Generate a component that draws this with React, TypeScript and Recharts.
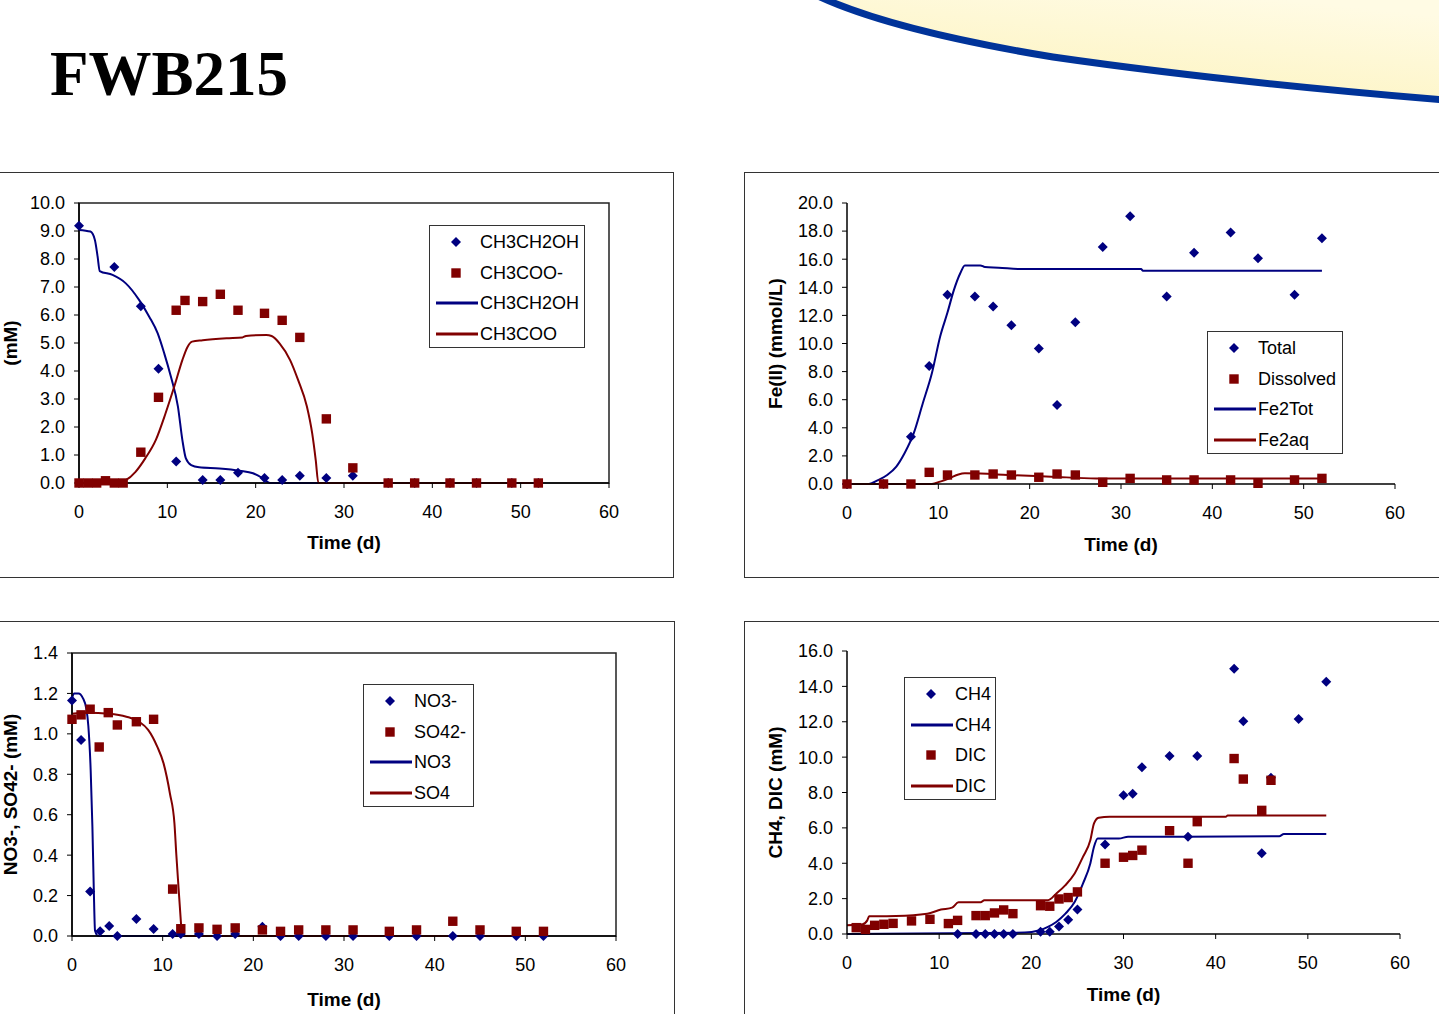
import React from "react";
import { ComposedChart, Line, Scatter, XAxis, YAxis, Legend, ReferenceArea } from "recharts";

type Pt = [number, number];

const BLUE = "#000080";
const RED = "#800000";
const FONT = '"Liberation Sans", Arial, sans-serif';

// axis ticks
const timeTicks = [0, 10, 20, 30, 40, 50, 60];
const organicTicks = [0, 1, 2, 3, 4, 5, 6, 7, 8, 9, 10];
const ironTicks = [0, 2, 4, 6, 8, 10, 12, 14, 16, 18, 20];
const anionTicks = [0, 0.2, 0.4, 0.6, 0.8, 1.0, 1.2, 1.4];
const gasTicks = [0, 2, 4, 6, 8, 10, 12, 14, 16];

// ethanol / acetate (mM)
const etohObs: Pt[] = [
  [0, 9.19], [4, 7.71], [7, 6.31], [9, 4.08], [11, 0.77], [14, 0.11], [16, 0.11],
  [18, 0.37], [21, 0.18], [23, 0.11], [25, 0.26], [28, 0.18], [31, 0.26],
  [35, 0], [38, 0], [42, 0], [45, 0], [49, 0], [52, 0],
];
const acetObs: Pt[] = [
  [0, 0], [1, 0], [2, 0], [3, 0.08], [4, 0], [5, 0], [7, 1.1], [9, 3.06],
  [11, 6.17], [12, 6.52], [14, 6.48], [16, 6.74], [18, 6.17], [21, 6.06],
  [23, 5.81], [25, 5.2], [28, 2.29], [31, 0.54], [35, 0], [38, 0], [42, 0],
  [45, 0], [49, 0], [52, 0],
];
const etohModel: Pt[] = [
  [0, 9.04], [1.3, 8.98], [1.8, 8.68], [2.1, 8.1], [2.35, 7.57], [3.8, 7.43],
  [5.3, 7.13], [6.8, 6.54], [7.95, 5.94], [8.9, 5.35], [9.65, 4.63], [10.4, 3.8],
  [11.2, 2.73], [11.7, 1.54], [12.1, 0.88], [12.7, 0.64], [13.6, 0.56],
  [15.9, 0.52], [18.2, 0.44], [19.7, 0.35], [20.8, 0.17], [21.6, 0], [52, 0],
];
const acetModel: Pt[] = [
  [0, 0], [4.4, 0], [5.3, 0.1], [6.4, 0.4], [7.5, 0.88], [8.7, 1.54], [9.8, 2.49],
  [10.9, 3.56], [11.7, 4.39], [12.3, 4.87], [12.8, 5.05], [14, 5.1], [16.7, 5.17],
  [18.5, 5.2], [18.9, 5.25], [21.2, 5.29], [21.8, 5.25], [22.7, 4.99], [23.9, 4.39],
  [24.8, 3.68], [25.8, 2.73], [26.4, 1.77], [26.8, 0.82], [27.1, 0], [52, 0],
];

// Fe(II) (mmol/L)
const feTotObs: Pt[] = [
  [0, 0], [4, 0], [7, 3.37], [9, 8.4], [11, 13.47], [14, 13.35], [16, 12.64],
  [18, 11.3], [21, 9.64], [23, 5.63], [25, 11.52], [28, 16.86], [31, 19.05],
  [35, 13.35], [38, 16.46], [42, 17.9], [45, 16.06], [49, 13.47], [52, 17.5],
];
const feDisObs: Pt[] = [
  [0, 0], [4, 0], [7, 0], [9, 0.83], [11, 0.64], [14, 0.64], [16, 0.71], [18, 0.64],
  [21, 0.48], [23, 0.71], [25, 0.64], [28, 0.12], [31, 0.4], [35, 0.29], [38, 0.29],
  [42, 0.29], [45, 0.05], [49, 0.29], [52, 0.4],
];
const fe2TotModel: Pt[] = [
  [0, 0], [2.4, 0], [3.4, 0.28], [4.4, 0.64], [5.4, 1.24], [6.3, 2.19], [7.3, 3.6],
  [8.3, 5.75], [9.3, 7.9], [10.2, 10.5], [11, 12.2], [11.7, 13.8], [12.4, 15.0],
  [12.9, 15.56], [14.6, 15.56], [15.1, 15.44], [16.6, 15.4], [19, 15.3],
  [32.2, 15.3], [32.4, 15.18], [52, 15.18],
];
const fe2aqModel: Pt[] = [
  [0, 0], [9.3, 0], [10.2, 0.17], [11.2, 0.4], [12.2, 0.68], [12.9, 0.76],
  [14.6, 0.74], [17.6, 0.64], [22.4, 0.52], [27.3, 0.4], [52, 0.4],
];

// NO3- / SO42- (mM)
const no3Obs: Pt[] = [
  [0, 1.165], [1, 0.97], [2, 0.22], [3.1, 0.023], [4.1, 0.05], [5, 0], [7.1, 0.084],
  [9, 0.035], [11.1, 0.01], [12, 0.01], [14, 0.01], [16, 0], [18, 0.01], [21, 0.046],
  [23, 0], [25, 0], [28, 0], [31, 0], [35, 0], [38, 0], [42, 0], [45, 0], [49, 0], [52, 0],
];
const so4Obs: Pt[] = [
  [0, 1.072], [1, 1.094], [2, 1.122], [3, 0.935], [4, 1.105], [5, 1.044], [7.1, 1.06],
  [9, 1.072], [11.1, 0.232], [12, 0.036], [14, 0.04], [16, 0.033], [18, 0.04],
  [21, 0.03], [23, 0.023], [25, 0.03], [28, 0.03], [31, 0.03], [35, 0.023],
  [38, 0.03], [42, 0.073], [45, 0.03], [49, 0.023], [52, 0.023],
];
const no3Model: Pt[] = [
  [0, 1.177], [0.24, 1.2], [0.72, 1.2], [1.2, 1.177], [1.6, 1.12], [1.8, 1.04],
  [2.06, 0.82], [2.25, 0.54], [2.4, 0.24], [2.54, 0.026], [2.9, 0], [15.6, 0],
];
const so4Model: Pt[] = [
  [0, 1.1], [1.7, 1.105], [4.1, 1.1], [6, 1.085], [7.4, 1.06], [8.4, 1.02],
  [9.4, 0.937], [10.1, 0.854], [10.8, 0.705], [11.3, 0.556], [11.5, 0.407],
  [11.75, 0.24], [12, 0.076], [12.13, 0], [52, 0],
];

// CH4 / DIC (mM)
const ch4Obs: Pt[] = [
  [12, 0], [14, 0], [15, 0], [16, 0], [17, 0], [18, 0], [21, 0.13], [22, 0.13],
  [23, 0.43], [24, 0.81], [25, 1.38], [28, 5.06], [30, 7.84], [31, 7.93], [32, 9.43],
  [35, 10.07], [37, 5.5], [38, 10.07], [42, 15.0], [43, 12.03], [45, 4.57],
  [46, 8.84], [49, 12.15], [52, 14.26],
];
const dicObs: Pt[] = [
  [1, 0.36], [2, 0.26], [3, 0.49], [4, 0.55], [5, 0.6], [7, 0.74], [9, 0.83],
  [11, 0.59], [12, 0.77], [14, 1.04], [15, 1.04], [16, 1.19], [17, 1.36], [18, 1.15],
  [21, 1.6], [22, 1.57], [23, 1.98], [24, 2.06], [25, 2.38], [28, 4.0], [30, 4.34],
  [31, 4.44], [32, 4.74], [35, 5.84], [37, 4.0], [38, 6.35], [42, 9.92], [43, 8.76],
  [45, 6.99], [46, 8.69],
];
const ch4Model: Pt[] = [
  [0, 0], [19.3, 0.08], [20.8, 0.2], [21.8, 0.4], [22.7, 0.68], [23.7, 1.15],
  [24.7, 1.81], [25.6, 2.85], [26.4, 3.99], [26.8, 4.93], [27.2, 5.4], [29.5, 5.4],
  [30.5, 5.5], [36.7, 5.5], [46.9, 5.53], [47.4, 5.65], [52, 5.65],
];
const dicModel: Pt[] = [
  [0, 0.49], [1.7, 0.55], [2.2, 0.77], [2.4, 1.0], [5.3, 1.02], [8.7, 1.15],
  [10.2, 1.38], [11.4, 1.49], [12.1, 1.79], [14.5, 1.79], [14.9, 1.91], [21.8, 1.91],
  [22.7, 2.28], [23.7, 2.76], [24.7, 3.42], [25.6, 4.36], [26.4, 5.3], [26.8, 6.25],
  [27.3, 6.57], [28.5, 6.63], [41.1, 6.63], [41.3, 6.7], [52, 6.7],
];

const toRows = (pts: Pt[]) => pts.map(([x, y]) => ({ x, y }));

type Kind = "line" | "diamond" | "square";
interface Series { kind: Kind; name: string; color: string; data: Pt[] }

const Diamond = (p: any) => {
  const { cx, cy, fill } = p;
  if (cx == null || cy == null) return null;
  return <polygon points={`${cx},${cy - 5} ${cx + 5},${cy} ${cx},${cy + 5} ${cx - 5},${cy}`} fill={fill} />;
};
const Square = (p: any) => {
  const { cx, cy, fill } = p;
  if (cx == null || cy == null) return null;
  return <rect x={cx - 4.7} y={cy - 4.7} width={9.4} height={9.4} fill={fill} />;
};

function LegendBox({ items, width }: { items: Series[]; width: number }) {
  return (
    <div style={{ position: "relative", width, height: 123, border: "1px solid #333", boxSizing: "border-box", background: "#fff", fontFamily: FONT, fontSize: 18, color: "#000" }}>
      {items.map((it, i) => (
        <div key={i} style={{ position: "absolute", left: 0, top: 5 + i * 30.5, height: 22, width: "100%" }}>
          <svg width={50} height={22} style={{ position: "absolute", left: 0, top: 0 }}>
            {it.kind === "line" && <line x1={6} x2={48} y1={11} y2={11} stroke={it.color} strokeWidth={3} />}
            {it.kind === "diamond" && <Diamond cx={26} cy={11} fill={it.color} />}
            {it.kind === "square" && <Square cx={26} cy={11} fill={it.color} />}
          </svg>
          <span style={{ position: "absolute", left: 50, top: 0, lineHeight: "22px", whiteSpace: "nowrap" }}>{it.name}</span>
        </div>
      ))}
    </div>
  );
}

interface PanelProps {
  left: number; top: number; width: number; height: number;
  frame: { left: number; width: number; height: number };
  margin: { top: number; right: number; bottom: number; left: number };
  yWidth: number; yTicks: number[]; decimals: number;
  yTitle: string; yTitleX: number; xTitleOffset: number;
  boxed: boolean;
  series: Series[]; legendItems: Series[];
  legendPos: { left: number; top: number; width: number };
}

function Panel(props: PanelProps) {
  const { left, top, width, height, frame, margin, yWidth, yTicks, decimals, yTitle, yTitleX, xTitleOffset, boxed, series, legendItems, legendPos } = props;
  const yMax = yTicks[yTicks.length - 1];
  const plotMidY = margin.top + (height - margin.top - margin.bottom - 30) / 2;
  const tickStyle = { fill: "#000", fontSize: 18, fontFamily: FONT };
  const renderYTitle = (lp: any) => {
    const vb = lp && lp.viewBox ? lp.viewBox : null;
    const cy = vb && vb.height ? vb.y + vb.height / 2 : plotMidY;
    return (
      <text x={yTitleX} y={cy} transform={`rotate(-90 ${yTitleX} ${cy})`} textAnchor="middle" dominantBaseline="central"
        fontFamily={FONT} fontSize={19} fontWeight="bold" fill="#000">{yTitle}</text>
    );
  };
  return (
    <>
      <div style={{ position: "absolute", left: frame.left, top, width: frame.width, height: frame.height, border: "1.5px solid #333", boxSizing: "border-box" }} />
      <div style={{ position: "absolute", left, top, width, height }}>
        <ComposedChart width={width} height={height} margin={margin}>
          <XAxis type="number" dataKey="x" domain={[0, 60]} ticks={timeTicks} interval={0} height={30}
            tick={tickStyle} tickSize={5} tickMargin={17} axisLine={{ stroke: "#000", strokeWidth: 1.5 }} tickLine={{ stroke: "#000" }}
            label={{ value: "Time (d)", position: "bottom", offset: xTitleOffset, fill: "#000", fontSize: 19, fontWeight: "bold", fontFamily: FONT }} />
          <YAxis type="number" domain={[0, yMax]} ticks={yTicks} interval={0} width={yWidth}
            tick={tickStyle} tickSize={5} tickMargin={9} tickFormatter={(v: number) => v.toFixed(decimals)}
            axisLine={{ stroke: "#000", strokeWidth: 1.5 }} tickLine={{ stroke: "#000" }}
            label={{ content: renderYTitle }} />
          {boxed && <ReferenceArea x1={0} x2={60} y1={0} y2={yMax} fill="none" stroke="#222" strokeWidth={1.5} ifOverflow="visible" />}
          {series.filter((s) => s.kind === "line").map((s) => (
            <Line key={s.name + "-l"} data={toRows(s.data)} dataKey="y" type="monotone" stroke={s.color} strokeWidth={2}
              dot={false} activeDot={false} isAnimationActive={false} />
          ))}
          {series.filter((s) => s.kind !== "line").map((s) => (
            <Scatter key={s.name + "-s"} data={toRows(s.data)} dataKey="y" fill={s.color}
              shape={s.kind === "diamond" ? Diamond : Square} isAnimationActive={false} />
          ))}
          <Legend layout="vertical" align="center" verticalAlign="middle"
            wrapperStyle={{ left: legendPos.left, top: legendPos.top, width: legendPos.width, height: 123 }}
            content={() => <LegendBox items={legendItems} width={legendPos.width} />} />
        </ComposedChart>
      </div>
    </>
  );
}

export default function App() {
  const etohPts: Series = { kind: "diamond", name: "CH3CH2OH", color: BLUE, data: etohObs };
  const acetPts: Series = { kind: "square", name: "CH3COO-", color: RED, data: acetObs };
  const etohLine: Series = { kind: "line", name: "CH3CH2OH", color: BLUE, data: etohModel };
  const acetLine: Series = { kind: "line", name: "CH3COO", color: RED, data: acetModel };

  const totPts: Series = { kind: "diamond", name: "Total", color: BLUE, data: feTotObs };
  const disPts: Series = { kind: "square", name: "Dissolved", color: RED, data: feDisObs };
  const totLine: Series = { kind: "line", name: "Fe2Tot", color: BLUE, data: fe2TotModel };
  const aqLine: Series = { kind: "line", name: "Fe2aq", color: RED, data: fe2aqModel };

  const no3Pts: Series = { kind: "diamond", name: "NO3-", color: BLUE, data: no3Obs };
  const so4Pts: Series = { kind: "square", name: "SO42-", color: RED, data: so4Obs };
  const no3Line: Series = { kind: "line", name: "NO3", color: BLUE, data: no3Model };
  const so4Line: Series = { kind: "line", name: "SO4", color: RED, data: so4Model };

  const ch4Pts: Series = { kind: "diamond", name: "CH4", color: BLUE, data: ch4Obs };
  const ch4Line: Series = { kind: "line", name: "CH4", color: BLUE, data: ch4Model };
  const dicPts: Series = { kind: "square", name: "DIC", color: RED, data: dicObs };
  const dicLine: Series = { kind: "line", name: "DIC", color: RED, data: dicModel };

  return (
    <div style={{ position: "fixed", left: 0, top: 0, width: 1439, height: 1014, overflow: "hidden", background: "#fff" }}>
      <svg width={1439} height={120} style={{ position: "absolute", left: 0, top: 0 }}>
        <defs>
          <linearGradient id="banner" x1="0" y1="1" x2="0.6" y2="0">
            <stop offset="0" stopColor="#fcf2b8" />
            <stop offset="1" stopColor="#fffbe4" />
          </linearGradient>
        </defs>
        <path d="M 818 -4 C 874 22, 962 42, 1053 57 C 1150 71, 1300 88, 1445 100 L 1445 -10 L 818 -10 Z" fill="url(#banner)" />
        <path d="M 818 -4 C 874 22, 962 42, 1053 57 C 1150 71, 1300 88, 1445 100" fill="none" stroke="#003399" strokeWidth={7} />
        <text x={50} y={95} fontFamily='"Liberation Serif", "Times New Roman", serif' fontWeight="bold" fontSize={63} fill="#000">FWB215</text>
      </svg>

      <Panel left={0} top={172} width={674} height={406}
        frame={{ left: -20, width: 694, height: 406 }}
        margin={{ top: 31, right: 65, left: 19, bottom: 65 }} yWidth={60}
        yTicks={organicTicks} decimals={1} yTitle="(mM)" yTitleX={10} xTitleOffset={23} boxed
        series={[etohPts, acetPts, etohLine, acetLine]} legendItems={[etohPts, acetPts, etohLine, acetLine]}
        legendPos={{ left: 429, top: 53, width: 156 }} />

      <Panel left={744} top={172} width={695} height={406}
        frame={{ left: 744, width: 720, height: 406 }}
        margin={{ top: 31, right: 44, left: 43, bottom: 64 }} yWidth={60}
        yTicks={ironTicks} decimals={1} yTitle="Fe(II) (mmol/L)" yTitleX={31.7} xTitleOffset={24} boxed={false}
        series={[totPts, disPts, totLine, aqLine]} legendItems={[totPts, disPts, totLine, aqLine]}
        legendPos={{ left: 463, top: 159, width: 136 }} />

      <Panel left={0} top={621} width={675} height={393}
        frame={{ left: -20, width: 695, height: 420 }}
        margin={{ top: 32, right: 59, left: 17, bottom: 48 }} yWidth={55}
        yTicks={anionTicks} decimals={1} yTitle="NO3-, SO42- (mM)" yTitleX={10} xTitleOffset={27} boxed
        series={[no3Pts, so4Pts, no3Line, so4Line]} legendItems={[no3Pts, so4Pts, no3Line, so4Line]}
        legendPos={{ left: 363, top: 63, width: 111 }} />

      <Panel left={744} top={621} width={695} height={393}
        frame={{ left: 744, width: 720, height: 420 }}
        margin={{ top: 30, right: 39, left: 43, bottom: 50 }} yWidth={60}
        yTicks={gasTicks} decimals={1} yTitle="CH4, DIC (mM)" yTitleX={31.7} xTitleOffset={24} boxed={false}
        series={[ch4Pts, dicPts, ch4Line, dicLine]} legendItems={[ch4Pts, ch4Line, dicPts, dicLine]}
        legendPos={{ left: 160, top: 56, width: 92 }} />
    </div>
  );
}
